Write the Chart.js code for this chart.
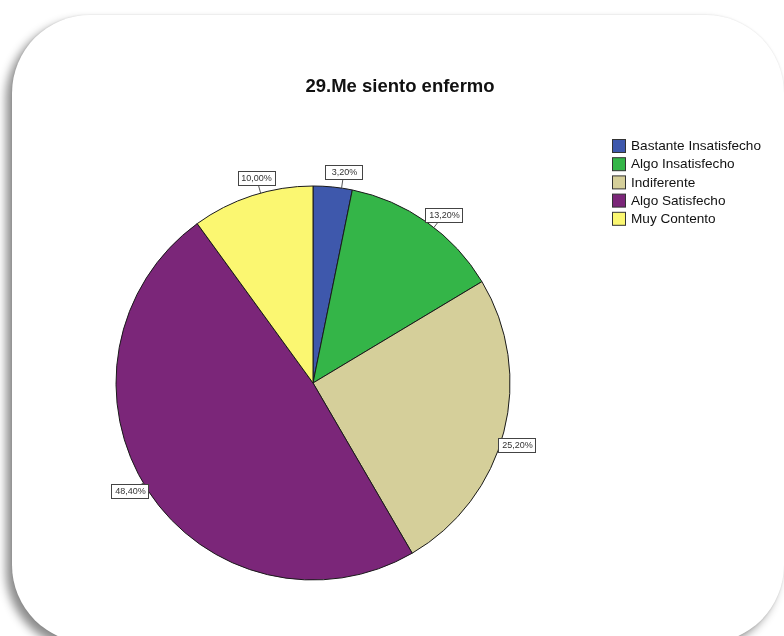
<!DOCTYPE html>
<html>
<head>
<meta charset="utf-8">
<script src="https://cdn.jsdelivr.net/npm/chart.js@4.4.1/dist/chart.umd.min.js"></script>
<style>
    html, body { margin: 0; padding: 0; background: #ffffff; }
    #wrap { position: relative; width: 784px; height: 636px; overflow: hidden; }
    #frame {
        position: absolute; left: 12px; top: 15px; width: 772px; height: 628px;
        border-radius: 78px; background: #ffffff;
        box-shadow: -6px 6px 10px rgba(0, 0, 0, 0.45), 0 0 2px rgba(0, 0, 0, 0.12);
    }
    #chart { position: absolute; left: 0; top: 0; }
</style>
</head>
<body>
<div id="wrap">
    <div id="frame"></div>
    <canvas id="chart" width="784" height="636"></canvas>
</div>
<script>
/* ========================================
   29. ME SIENTO ENFERMO - PIE
   ======================================== */

const categories = ['Bastante Insatisfecho', 'Algo Insatisfecho', 'Indiferente', 'Algo Satisfecho', 'Muy Contento'];
const percents = [3.2, 13.2, 25.2, 48.4, 10.0];
const sliceColors = ['#3E58AC', '#34B548', '#D5CF9A', '#7B2679', '#FBF771'];
const chartTitle = '29.Me siento enfermo';

const fmt = (v) => v.toFixed(2).replace('.', ',') + '%';

// title, legend and boxed value labels
const decorPlugin = {
    id: 'decor',
    afterDraw(chart) {
        const ctx = chart.ctx;
        ctx.save();

        // title
        ctx.fillStyle = '#111';
        ctx.font = 'bold 18.5px "Liberation Sans", Arial, sans-serif';
        ctx.textAlign = 'center';
        ctx.textBaseline = 'middle';
        ctx.fillText(chartTitle, 400, 87);

        // legend
        ctx.font = '13.6px "Liberation Sans", Arial, sans-serif';
        ctx.textAlign = 'left';
        categories.forEach((c, i) => {
            const y = 146 + i * 18.2;
            ctx.fillStyle = sliceColors[i];
            ctx.fillRect(612.5, y - 6.5, 13, 13);
            ctx.strokeStyle = '#333';
            ctx.lineWidth = 1;
            ctx.strokeRect(612.5, y - 6.5, 13, 13);
            ctx.fillStyle = '#111';
            ctx.fillText(c, 631, y + 0.5);
        });

        // value labels, nudged slightly clockwise off the slice middle
        const meta = chart.getDatasetMeta(0);
        ctx.font = '9px "Liberation Sans", Arial, sans-serif';
        ctx.textAlign = 'center';
        meta.data.forEach((arc, i) => {
            const p = arc.getProps(['x', 'y', 'startAngle', 'endAngle', 'outerRadius'], true);
            const mid = (p.startAngle + p.endAngle) / 2 + 0.045;
            const dx = Math.cos(mid), dy = Math.sin(mid);
            const cx = p.x + dx * (p.outerRadius + 16);
            const cy = p.y + dy * (p.outerRadius + 16);
            const w = 37, h = 14;
            const ex = p.x + dx * p.outerRadius, ey = p.y + dy * p.outerRadius;

            // leader line to the slice edge
            ctx.strokeStyle = '#555';
            ctx.lineWidth = 1;
            ctx.beginPath();
            ctx.moveTo(cx, cy);
            ctx.lineTo(ex, ey);
            ctx.stroke();

            ctx.fillStyle = '#fff';
            ctx.fillRect(Math.round(cx - w / 2) + 0.5, Math.round(cy - h / 2) + 0.5, w, h);
            ctx.strokeStyle = '#444';
            ctx.strokeRect(Math.round(cx - w / 2) + 0.5, Math.round(cy - h / 2) + 0.5, w, h);
            ctx.fillStyle = '#333';
            ctx.fillText(fmt(percents[i]), Math.round(cx) + 0.5, Math.round(cy) + 1);
        });
        ctx.restore();
    }
};

new Chart(document.getElementById('chart'), {
    type: 'pie',
    data: {
        labels: categories,
        datasets: [{
            data: percents,
            backgroundColor: sliceColors,
            borderColor: '#1a1a1a',
            borderWidth: 1
        }]
    },
    options: {
        responsive: false,
        animation: false,
        radius: 197,
        layout: { padding: { left: 114, right: 272, top: 184, bottom: 54 } },
        plugins: {
            legend: { display: false },
            tooltip: { enabled: false }
        }
    },
    plugins: [decorPlugin]
});
</script>
</body>
</html>
